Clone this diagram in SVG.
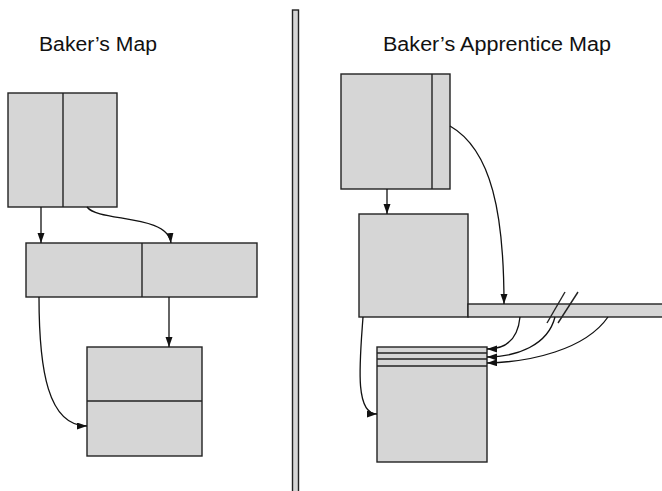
<svg xmlns="http://www.w3.org/2000/svg" width="662" height="491" viewBox="0 0 662 491">
<style>
.box{fill:#d6d6d6;stroke:#222;stroke-width:1.4}
.ln{fill:none;stroke:#222;stroke-width:1.4}
.c{fill:none;stroke:#111;stroke-width:1.3;marker-end:url(#ah)}
.t{font-family:"Liberation Sans",Arial,sans-serif;font-size:20px;fill:#111}
</style>
<defs>
<marker id="ah" markerUnits="userSpaceOnUse" markerWidth="11" markerHeight="8" refX="10" refY="3.5" orient="auto">
<path d="M0,0 L10,3.5 L0,7 z" fill="#111"/>
</marker>
</defs>
<rect width="662" height="491" fill="#fff"/>
<text class="t" x="39" y="51" textLength="118" lengthAdjust="spacingAndGlyphs">Baker’s Map</text>
<text class="t" x="383" y="51" textLength="228" lengthAdjust="spacingAndGlyphs">Baker’s Apprentice Map</text>
<g id="divider"><rect class="box" x="292.5" y="10" width="6" height="485" stroke-width="2"/></g>
<g id="left-top"><rect class="box" x="8" y="93" width="109" height="114"/><line class="ln" x1="63" y1="93" x2="63" y2="207"/></g>
<g id="left-mid"><rect class="box" x="26" y="243" width="231" height="54"/><line class="ln" x1="142" y1="243" x2="142" y2="297"/></g>
<g id="left-bot"><rect class="box" x="87" y="347" width="115" height="109"/><line class="ln" x1="87" y1="401" x2="202" y2="401"/></g>
<g id="right-top"><rect class="box" x="341" y="74" width="109" height="115"/><line class="ln" x1="432" y1="74" x2="432" y2="189"/></g>
<g id="right-mid"><rect class="box" x="359" y="214" width="109" height="103"/></g>
<g id="right-bar"><rect class="box" x="468" y="304" width="200" height="13"/>
<line class="ln" x1="547" y1="323" x2="565" y2="292"/><line class="ln" x1="558" y1="323" x2="578" y2="292"/></g>
<g id="right-bot"><rect class="box" x="377" y="347" width="110" height="115"/>
<line class="ln" x1="377" y1="353" x2="487" y2="353"/><line class="ln" x1="377" y1="359" x2="487" y2="359"/><line class="ln" x1="377" y1="366" x2="487" y2="366"/></g>
<g id="connectors">
<path class="c" d="M41,207 L41,243"/>
<path class="c" d="M87,207 C98,222 168,214 171,243"/>
<path class="c" d="M169,297 L169,347"/>
<path class="c" d="M39,297 C39,370 48,426 87,426"/>
<path class="c" d="M387,189 L387,214"/>
<path class="c" d="M450,126 C492,150 504,215 504,304"/>
<path class="c" d="M363,317 C360,360 354,414 377,414"/>
<path class="c" d="M520,317 C518,338 508,349 487,349"/>
<path class="c" d="M555,317 C548,345 517,357 487,357"/>
<path class="c" d="M608,317 C585,350 530,362 487,363"/>
</g>
</svg>
